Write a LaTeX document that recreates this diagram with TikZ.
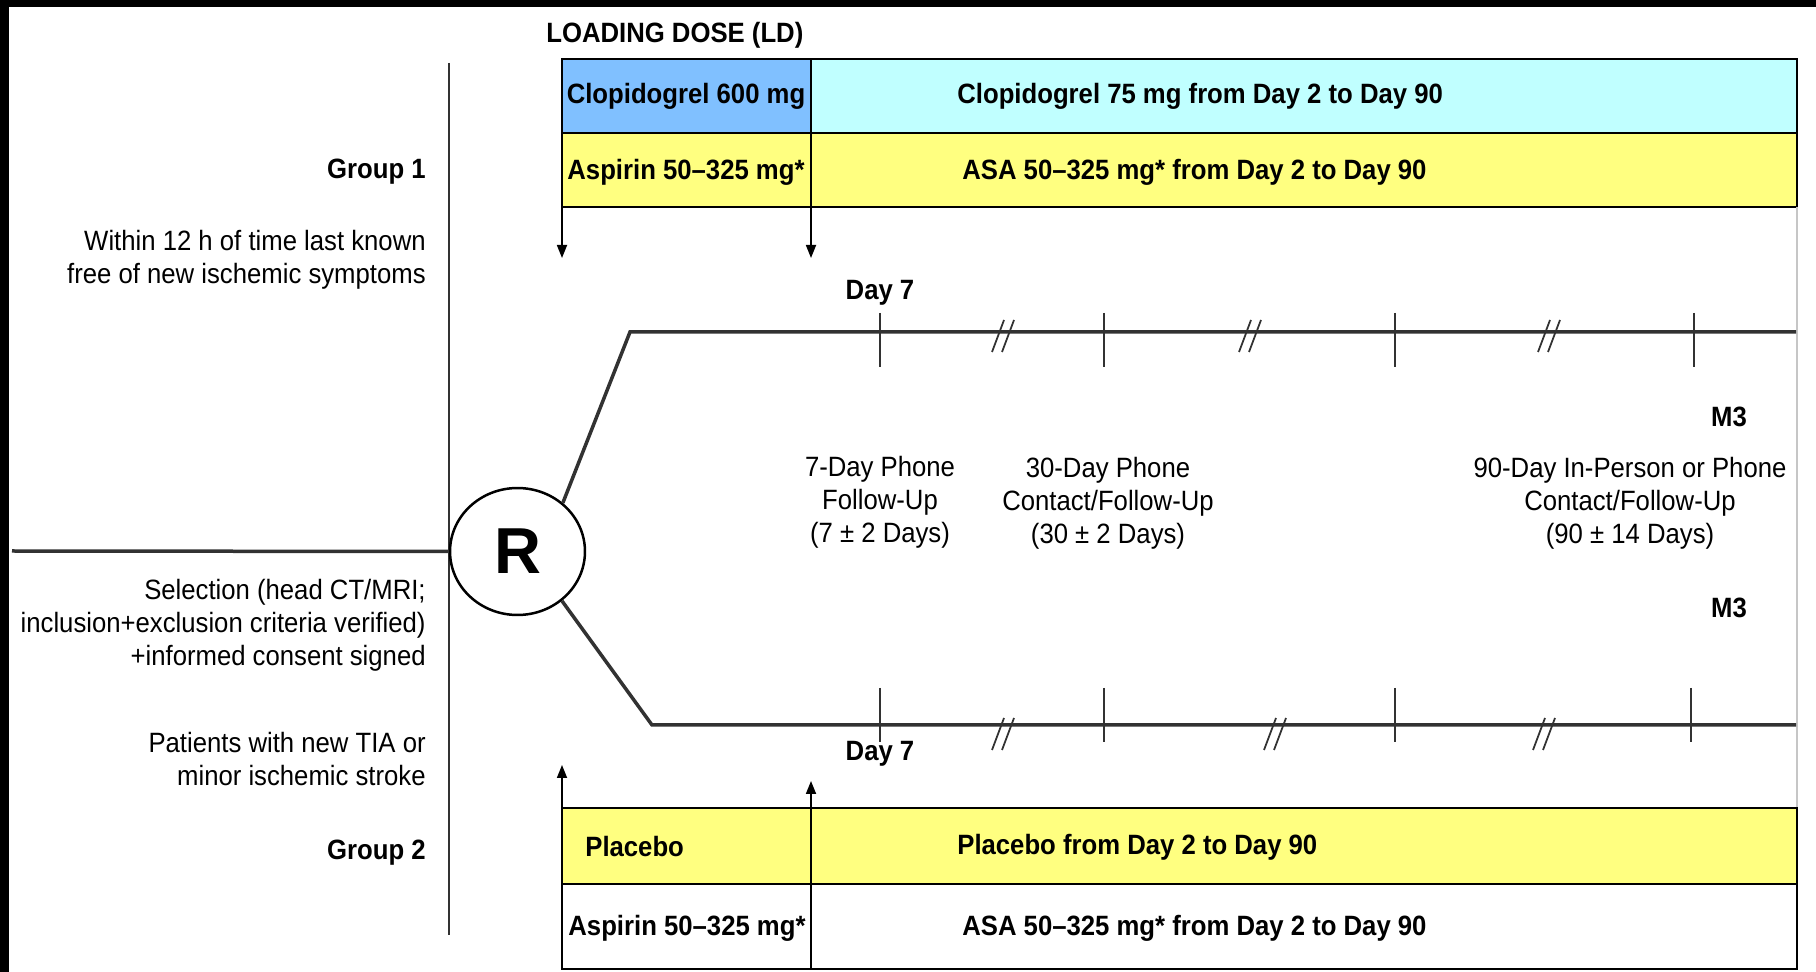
\documentclass[tikz,border=0pt]{standalone}
\usepackage{fontspec}
\setmainfont{Liberation Sans}[FakeStretch=0.92]
\newfontfamily\rfont{Liberation Sans}
\usetikzlibrary{arrows.meta,shapes.geometric}
\definecolor{ldblue}{RGB}{128,192,255}
\definecolor{mdcyan}{RGB}{192,255,255}
\definecolor{asayellow}{RGB}{255,255,128}
\definecolor{linegray}{RGB}{50,50,50}

\begin{document}
\begin{tikzpicture}[x=0.02cm,y=-0.02cm,
    txt/.style={inner sep=0pt,font=\fontsize{15.9}{18.8}\selectfont},
    btxt/.style={inner sep=0pt,font=\fontsize{15.9}{18.8}\selectfont\bfseries},
    cell/.style={draw=black,line width=0.05cm},
    arr/.style={draw=black,line width=0.035cm,-{Triangle[length=0.26cm,width=0.2cm]}},
    track/.style={draw=linegray,line width=0.07cm},
    tick/.style={draw=linegray,line width=0.04cm},
    brk/.style={draw=linegray,line width=0.035cm}]
        \useasboundingbox (0,0) rectangle (1816,972);
        \fill[white] (0,0) rectangle (1816,972);
        \fill[black] (0,0) rectangle (1816,7);
        \fill[black] (0,0) rectangle (9,972);
        \draw (546,35) node[btxt,anchor=west] (ld) {LOADING DOSE (LD)};
        \draw[cell,fill=ldblue] (562,59) rectangle (811,133);
        \draw[cell,fill=mdcyan] (811,59) rectangle (1797,133);
        \draw[cell,fill=asayellow] (562,133) rectangle (1797,207);
        \draw (686,96) node[btxt] (clo600) {Clopidogrel 600 mg};
        \draw (957,96) node[btxt,anchor=west] (clo75) {Clopidogrel 75 mg from Day 2 to Day 90};
        \draw (686,172) node[btxt] (asp1) {Aspirin 50–325 mg*};
        \draw (962,172) node[btxt,anchor=west] (asa1) {ASA 50–325 mg* from Day 2 to Day 90};
        \draw[arr] (562,207) -- (562,258);
        \draw[arr] (811,59) -- (811,258);
        \draw[draw=gray!45,line width=0.03cm] (1797,207) -- (1797,808);
        \draw[cell,fill=asayellow] (562,808) rectangle (1797,884);
        \draw[cell] (562,884) rectangle (1797,969);
        \draw (585,847) node[btxt,anchor=west] (plac) {Placebo};
        \draw (957,847) node[btxt,anchor=west] (plac90) {Placebo from Day 2 to Day 90};
        \draw (687,928) node[btxt] (asp2) {Aspirin 50–325 mg*};
        \draw (962,928) node[btxt,anchor=west] (asa2) {ASA 50–325 mg* from Day 2 to Day 90};
        \draw[arr] (562,808) -- (562,765);
        \draw[arr] (811,969) -- (811,781);
        \draw[draw=linegray,line width=0.04cm] (449,63) -- (449,935);
        \draw (517.5,551.5) node[ellipse,draw,line width=0.05cm,minimum width=2.7cm,minimum height=2.54cm,inner sep=0pt,font=\rfont\fontsize{37}{40}\selectfont\bfseries] (R) {R};
        \draw[track] (12,551) -- (R.west);
        \draw[track] (R.47) -- (630,332) -- (1796,332);
        \draw[track] (R.-48) -- (652,725) -- (1796,725);
        \foreach \x in {880,1104,1395,1694} \draw[tick] (\x,313) -- (\x,367);
        \foreach \x in {880,1104,1395,1691} \draw[tick] (\x,688) -- (\x,742);
        \foreach \x in {1002,1249,1548} {\draw[brk] (\x-10,352) -- (\x+2,320); \draw[brk] (\x,352) -- (\x+12,320);}
        \foreach \x in {1002,1274,1543} {\draw[brk] (\x-10,750) -- (\x+2,718); \draw[brk] (\x,750) -- (\x+12,718);}
        \draw (880,293) node[btxt] (day7a) {Day 7};
        \draw (880,754) node[btxt] (day7b) {Day 7};
        \draw (1729,417) node[btxt] (m3a) {M3};
        \draw (1729,608) node[btxt] (m3b) {M3};
        \draw (880,502) node[txt,align=center] (fu7) {7-Day Phone\\Follow-Up\\(7 ± 2 Days)};
        \draw (1108,503) node[txt,align=center] (fu30) {30-Day Phone\\Contact/Follow-Up\\(30 ± 2 Days)};
        \draw (1630,503) node[txt,align=center] (fu90) {90-Day In-Person or Phone\\Contact/Follow-Up\\(90 ± 14 Days)};
        \draw (426,172) node[btxt,anchor=east] (grp1) {Group 1};
        \draw (426,260) node[txt,align=right,anchor=east] (win12) {Within 12 h of time last known\\free of new ischemic symptoms};
        \draw (426,625) node[txt,align=right,anchor=east] (sel) {Selection (head CT/MRI;\\inclusion+exclusion criteria verified)\\+informed consent signed};
        \draw (426,759) node[txt,align=right,anchor=east] (pat) {Patients with new TIA or\\minor ischemic stroke};
        \draw (426,853) node[btxt,anchor=east] (grp2) {Group 2};
\end{tikzpicture}
\end{document}
